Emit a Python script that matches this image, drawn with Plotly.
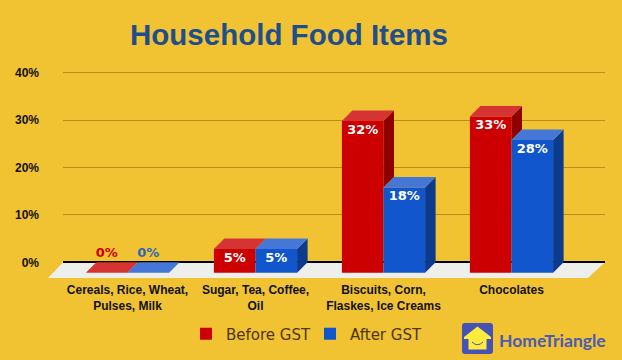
import plotly.graph_objects as go

categories = ["Cereals, Rice, Wheat,<br>Pulses, Milk", "Sugar, Tea, Coffee,<br>Oil",
              "Biscuits, Corn,<br>Flaskes, Ice Creams", "Chocolates"]
before_gst = [0, 5, 32, 33]
after_gst = [0, 5, 18, 28]
y_ticks = [0, 10, 20, 30, 40]
y_labels = ["0%", "10%", "20%", "30%", "40%"]

W, H = 622, 360
BG = "#F1C232"
RED, RED_TOP, RED_SIDE = "#CC0000", "#D63333", "#8E0000"
BLUE, BLUE_TOP, BLUE_SIDE = "#1155CC", "#4477D6", "#0C3B8E"
BAR_W = 0.325
DX = 10.5 / 128
DY = 10.5 / 4.74
px_x0, px_x1 = 63.0, 605.0
x_lo = (px_x0 - 127.5) / 128
x_hi = (px_x1 - 127.5) / 128
px_ytop, px_ybot = 60.0, 278.0
y_lo = -(px_ybot - 262.3) / 4.74
y_hi = (262.3 - px_ytop) / 4.74


def fx(px):
    return px / W


def fy(py):
    return 1 - py / H


def poly(xs, ys):
    return xs + [xs[0], None], ys + [ys[0], None]


def add_face(fig, pts, color):
    X, Y = [], []
    for xs, ys in pts:
        a, b = poly(xs, ys)
        X += a
        Y += b
    fig.add_trace(go.Scatter(x=X, y=Y, mode="lines", fill="toself", fillcolor=color,
                             line=dict(width=0, color=color), hoverinfo="skip",
                             showlegend=False, cliponaxis=False))


fig = go.Figure()
xs = list(range(len(categories)))
fig.add_trace(go.Bar(name="Before GST", x=xs, y=before_gst, base=[-DY] * 4, marker_color=RED,
                     marker_line_width=0))
fig.add_trace(go.Bar(name="After GST", x=xs, y=after_gst, base=[-DY] * 4, marker_color=BLUE,
                     marker_line_width=0))

red_side, red_top, blue_side, blue_top = [], [], [], []
for i, (r, b) in enumerate(zip(before_gst, after_gst)):
    a, m, e = i - BAR_W, i, i + BAR_W
    rt, bt = r - DY, b - DY
    low = min(rt, bt)
    red_side.append(([m, m + DX, m + DX, m], [rt, rt + DY, low + DY, low]))
    red_top.append(([a, a + DX, m + DX, m], [rt, rt + DY, rt + DY, rt]))
    blue_side.append(([e, e + DX, e + DX, e], [bt, bt + DY, 0, -DY]))
    blue_top.append(([m, m + DX, e + DX, e], [bt, bt + DY, bt + DY, bt]))
add_face(fig, red_side, RED_SIDE)
add_face(fig, red_top, RED_TOP)
add_face(fig, blue_side, BLUE_SIDE)
add_face(fig, blue_top, BLUE_TOP)

lx, ly, lt, lc = [], [], [], []
for i, (r, b) in enumerate(zip(before_gst, after_gst)):
    for v, off, col in ((r, -BAR_W / 2, RED), (b, BAR_W / 2, "#2F66B8")):
        lx.append(i + off)
        ly.append(v - DY - 2.05 if v > 0 else 1.75)
        lt.append(f"{v}%")
        lc.append("#FFFFFF" if v > 0 else col)
fig.add_trace(go.Scatter(x=lx, y=ly, text=lt, mode="text", textposition="middle center",
                         textfont=dict(family="DejaVu Sans", size=13, color=lc, weight="bold"),
                         showlegend=False, hoverinfo="skip", cliponaxis=False))


def pth(points):
    return "M" + " L".join(f"{fx(a)},{fy(b)}" for a, b in points) + " Z"


LOGO = "#4653B5"
shapes = [
    dict(type="path", xref="paper", yref="paper", layer="below", line_width=0, fillcolor="#EEEEEA",
         path=pth([(63, 262.3), (605, 262.3), (588, 278), (48, 278)])),
    dict(type="path", xref="paper", yref="paper", fillcolor=LOGO, line_width=0,
         path=(f"M{fx(465)},{fy(323)} L{fx(490)},{fy(323)} Q{fx(493)},{fy(323)} {fx(493)},{fy(326)} "
               f"L{fx(493)},{fy(351)} Q{fx(493)},{fy(354)} {fx(490)},{fy(354)} "
               f"L{fx(465)},{fy(354)} Q{fx(462)},{fy(354)} {fx(462)},{fy(351)} "
               f"L{fx(462)},{fy(326)} Q{fx(462)},{fy(323)} {fx(465)},{fy(323)} Z")),
    dict(type="path", xref="paper", yref="paper", fillcolor="#FFEB3B", line_width=0,
         path=pth([(477.5, 326.5), (491, 337), (491, 339), (486.5, 339), (486.5, 349.5),
                   (468.5, 349.5), (468.5, 339), (464, 339), (464, 337)])),
    dict(type="path", xref="paper", yref="paper", line=dict(color=LOGO, width=1),
         path=f"M{fx(472)},{fy(342)} Q{fx(477.5)},{fy(347.5)} {fx(483)},{fy(342)}"),
]

fig.update_layout(
    width=W, height=H, margin=dict(l=0, r=0, t=0, b=0, pad=0),
    paper_bgcolor=BG, plot_bgcolor="rgba(0,0,0,0)",
    barmode="group", bargap=0.35, bargroupgap=0,
    font=dict(family="Liberation Sans"),
    title=dict(text="Household Food Items", x=289 / W, xanchor="center", y=fy(35), yanchor="middle",
               font=dict(family="Liberation Sans", size=29.5, color="#1F4E8C", weight="bold")),
    xaxis=dict(domain=[fx(px_x0), fx(px_x1)], range=[x_lo, x_hi], tickmode="array", tickvals=xs,
               ticktext=categories, showgrid=False, zeroline=False, showline=False, ticks="",
               ticklabelstandoff=3,
               tickfont=dict(family="Liberation Sans", size=12, color="#111111", weight="bold")),
    yaxis=dict(domain=[fy(px_ybot), fy(px_ytop)], range=[y_lo, y_hi], tickmode="array", tickvals=y_ticks,
               ticktext=y_labels, showgrid=True, gridcolor="#B58E22", gridwidth=1,
               zeroline=True, zerolinecolor="#000000", zerolinewidth=2, ticks="",
               ticklabelstandoff=23,
               tickfont=dict(family="Liberation Sans", size=12, color="#111111", weight="bold")),
    legend=dict(orientation="h", x=fx(186), xanchor="left", y=fy(334), yanchor="middle",
                bgcolor="rgba(0,0,0,0)", itemwidth=30, traceorder="normal",
                entrywidth=79, entrywidthmode="pixels",
                font=dict(family="DejaVu Sans", size=15, color="#4F3608")),
    shapes=shapes,
    annotations=[dict(text="<b>HomeTriangle</b>", xref="paper", yref="paper", x=fx(497), y=fy(340),
                      xanchor="left", yanchor="middle", showarrow=False,
                      font=dict(family="Lato", size=17.5, color="#4A5BB0"))],
)
fig.write_html("out.html", config={"displayModeBar": False},
               post_script="document.body.style.margin='0';")
